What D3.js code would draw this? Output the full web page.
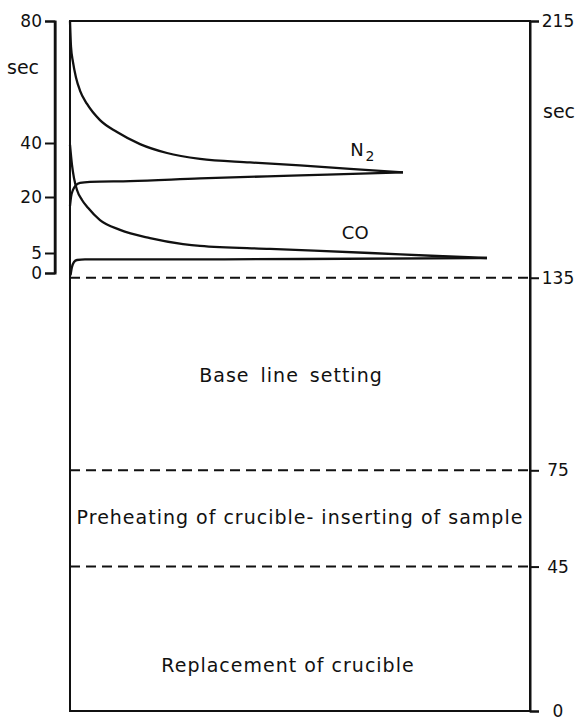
<!DOCTYPE html>
<html>
<head>
<meta charset="utf-8">
<script src="https://cdn.jsdelivr.net/npm/d3@7"></script>
<style>
body { margin: 0; background: #fff; }
svg { display: block; font-family: "DejaVu Sans", sans-serif; }
</style>
</head>
<body>
<svg width="583" height="724"></svg>
<script>
/* tick values of both axes */
var leftTicks = [0, 5, 20, 40, 80];
var rightTicks = [0, 45, 75, 135, 215];

/* phases of the cycle (right axis, sec) */
var phaseBounds = [45, 75, 135];
var phaseNames = ["Replacement of crucible", "Preheating of crucible- inserting of sample", "Base line setting"];
var phaseTextAt = [12.2, 58.3, 102.5];

/* traces: t = % of the cycle width, v = sec on the left axis */
var n2DecayT = [0, 0.22, 0.65, 1.3, 2.17, 3.7, 6.52, 10.22, 15.22, 21.09, 28.26, 39.13, 50, 60.87, 72.39];
var n2DecayV = [80, 71.5, 66.5, 61.5, 57.2, 52.8, 47.5, 43.6, 39.6, 36.3, 34.1, 32.8, 31.7, 30.4, 29.1];

var n2RiseT = [0, 0.22, 0.65, 1.3, 2.17, 4.35, 13.04, 28.26, 50, 72.39];
var n2RiseV = [17.6, 20, 22.6, 24.4, 25.2, 25.6, 25.9, 26.9, 28.0, 29.1];

var coDecayT = [0, 0.43, 0.87, 1.52, 2.61, 3.91, 6.52, 10.87, 17.39, 24.57, 28.26, 43.48, 65.22, 79.78, 90.65];
var coDecayV = [39.3, 31.9, 27.0, 22.6, 19.2, 17.1, 13.8, 11.2, 9.0, 7.4, 6.9, 6.1, 5.0, 4.25, 3.75];

var coRiseT = [0.11, 0.43, 0.87, 1.52, 3.26, 28.26, 50, 90.65];
var coRiseV = [-0.6, 1.5, 2.75, 3.25, 3.4, 3.4, 3.5, 3.75];

var svg = d3.select("svg");
var frame = {left: 70, right: 530, top: 21, bottom: 711};
var ink = "#111";

var x = d3.scaleLinear().domain([0, 100]).range([frame.left, frame.right]);

/* the left axis is drawn unevenly in the original, so piecewise */
var yL = d3.scaleLinear().domain(leftTicks).range([273, 253, 197, 143, frame.top]);
var yR = d3.scaleLinear().domain([0, 215]).range([frame.bottom, frame.top]);

/* frame */
svg.append("rect")
    .attr("x", frame.left).attr("y", frame.top)
    .attr("width", frame.right - frame.left).attr("height", frame.bottom - frame.top)
    .attr("fill", "none").attr("stroke", ink).attr("stroke-width", 2);

/* dashed phase lines */
svg.selectAll(".phase")
    .data(phaseBounds)
  .enter().append("line")
    .attr("x1", frame.left).attr("x2", frame.right)
    .attr("y1", function(d) { return yR(d); })
    .attr("y2", function(d) { return yR(d); })
    .attr("stroke", ink).attr("stroke-width", 2)
    .attr("stroke-dasharray", "10,6");

/* phase names */
var labelX = [288, 300, 291];
svg.selectAll(".pname")
    .data(phaseNames)
  .enter().append("text")
    .attr("x", function(d, i) { return labelX[i]; })
    .attr("y", function(d, i) { return yR(phaseTextAt[i]); })
    .attr("text-anchor", "middle")
    .attr("font-size", 19)
    .attr("letter-spacing", 1)
    .attr("word-spacing", function(d, i) { return i == 2 ? 4 : 0; })
    .attr("fill", ink)
    .text(function(d) { return d; });

/* axes */
var gl = svg.append("g")
    .attr("transform", "translate(55,0)")
    .call(d3.axisLeft(yL).tickValues(leftTicks).tickSize(10).tickSizeOuter(10).tickPadding(3));

var gr = svg.append("g")
    .attr("transform", "translate(" + frame.right + ",0)")
    .call(d3.axisRight(yR).tickValues(rightTicks).tickSize(9).tickSizeOuter(9).tickPadding(3));

[gl, gr].forEach(function(g) {
    g.attr("font-family", null).attr("font-size", null);
    g.selectAll("path, line").attr("stroke", ink).attr("stroke-width", 2);
    g.selectAll("text").attr("fill", ink).attr("font-size", 17);
});
gr.selectAll("text").attr("text-anchor", "middle").attr("x", 28);

/* bracket spine of the left axis, drawn a touch heavier */
gl.append("line")
    .attr("x1", 0).attr("x2", 0)
    .attr("y1", yL(0)).attr("y2", yL(80))
    .attr("stroke", ink).attr("stroke-width", 2.5);

svg.append("text").attr("x", 7).attr("y", 74)
    .attr("font-size", 19).attr("fill", ink).text("sec");
svg.append("text").attr("x", 543).attr("y", 118)
    .attr("font-size", 19).attr("fill", ink).text("sec");

/* traces */
var line = d3.line()
    .x(function(d) { return x(d[0]); })
    .y(function(d) { return yL(d[1]); })
    .curve(d3.curveMonotoneX);

[[n2DecayT, n2DecayV], [n2RiseT, n2RiseV], [coDecayT, coDecayV], [coRiseT, coRiseV]].forEach(function(s) {
    svg.append("path")
        .datum(d3.zip(s[0], s[1]))
        .attr("fill", "none")
        .attr("stroke", ink)
        .attr("stroke-width", 2.3)
        .attr("stroke-linejoin", "round")
        .attr("d", line);
});

/* trace labels */
var n2 = svg.append("text")
    .attr("x", x(60.9)).attr("y", yL(35.2))
    .attr("font-size", 18).attr("fill", ink)
    .text("N");
n2.append("tspan").attr("font-size", 14).attr("dx", 2).attr("dy", 5).text("2");

svg.append("text")
    .attr("x", x(59.1)).attr("y", yL(8.75))
    .attr("font-size", 18).attr("fill", ink)
    .text("CO");
</script>
</body>
</html>
